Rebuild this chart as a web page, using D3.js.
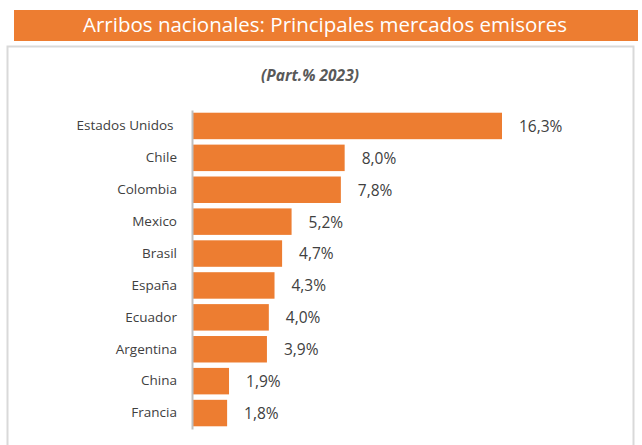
<!DOCTYPE html>
<html>
<head>
<meta charset="utf-8">
<script src="https://cdn.jsdelivr.net/npm/d3@7"></script>
<style>
  body { margin: 0; background: #fff; }
  svg { display: block; font-family: "Open Sans", sans-serif; }
</style>
</head>
<body>
<div id="container"></div>
<script>
// data
var paises = ["Estados Unidos ", "Chile", "Colombia", "Mexico", "Brasil", "España", "Ecuador", "Argentina", "China", "Francia"];
var participacion = [16.3, 8.0, 7.8, 5.2, 4.7, 4.3, 4.0, 3.9, 1.9, 1.8];
var titulo = "Arribos nacionales: Principales mercados emisores";
var subtitulo = "(Part.% 2023)";

var W = 642, H = 445;
var naranja = "#ed7d31";

let svg = d3.select('#container')
    .append('svg')
    .attr('width', W)
    .attr('height', H);

// caja gris
svg.append("rect")
    .attr("x", 7.5)
    .attr("y", 46.5)
    .attr("width", 626)
    .attr("height", 410)
    .attr("fill", "#fff")
    .attr("stroke", "#d9d9d9")
    .attr("stroke-width", 2);

// banda de titulo
svg.append("rect")
    .attr("x", 14)
    .attr("y", 10)
    .attr("width", 624)
    .attr("height", 31)
    .attr("fill", naranja);

svg.append("text")
    .attr("x", 325)
    .attr("y", 32)
    .attr("text-anchor", "middle")
    .attr("fill", "#fff")
    .style("font-size", "20.5px")
    .text(titulo);

svg.append("text")
    .attr("x", 310)
    .attr("y", 81)
    .attr("text-anchor", "middle")
    .attr("fill", "#595959")
    .style("font-size", "15.5px")
    .style("font-weight", "bold")
    .style("font-style", "italic")
    .text(subtitulo);

var data = paises.map(function (p, i) { return { pais: p, valor: participacion[i] }; });

var x = d3.scaleLinear().domain([0, 16.3]).range([193, 502]);
var y = d3.scaleBand().domain(paises).range([110, 429]).paddingInner(0.17).paddingOuter(0.085);

svg.selectAll(".bar")
    .data(data)
    .enter().append("rect")
    .attr("class", "bar")
    .attr("x", x(0))
    .attr("y", function (d) { return y(d.pais); })
    .attr("width", function (d) { return x(d.valor) - x(0); })
    .attr("height", y.bandwidth())
    .attr("fill", naranja);

// etiquetas de valor
svg.selectAll(".val")
    .data(data)
    .enter().append("text")
    .attr("class", "val")
    .attr("x", function (d) { return x(d.valor) + 17; })
    .attr("y", function (d) { return y(d.pais) + y.bandwidth() / 2; })
    .attr("dy", "0.38em")
    .attr("fill", "#404040")
    .style("font-size", "15.5px")
    .text(function (d) { return d3.format(".1f")(d.valor).replace(".", ",") + "%"; });

// eje vertical
var eje = svg.append("g")
    .attr("transform", "translate(192,0)")
    .call(d3.axisLeft(y).tickSize(0).tickPadding(15));
eje.select(".domain").attr("stroke", "#bfbfbf").attr("stroke-width", 2);
eje.selectAll("text")
    .attr("fill", "#404040")
    .style("white-space", "pre")
    .style("font-family", "Open Sans, sans-serif")
    .style("font-size", "13.5px");
</script>
</body>
</html>
